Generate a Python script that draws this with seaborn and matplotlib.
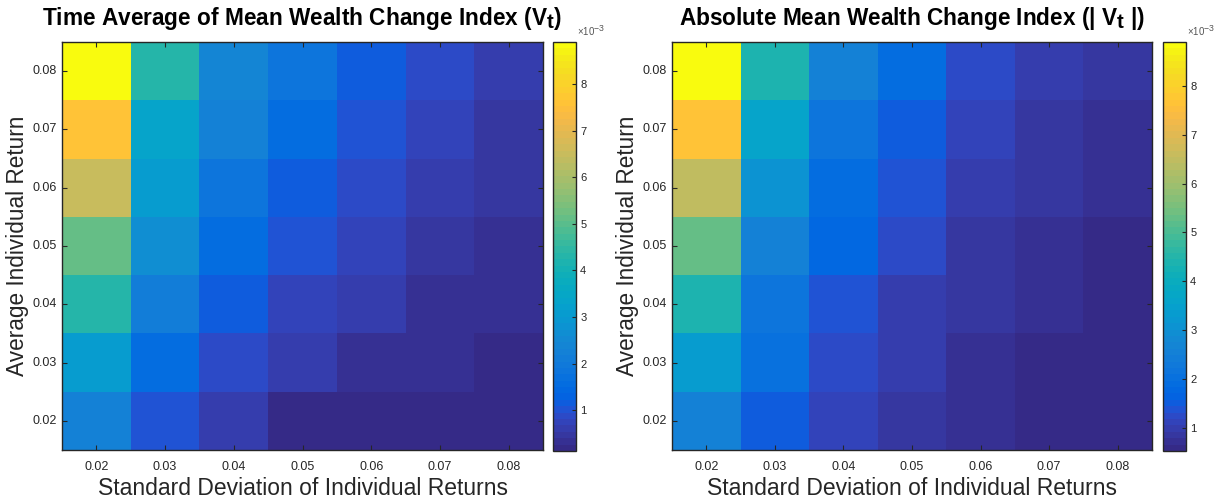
import numpy as np
import pandas as pd
import matplotlib
matplotlib.use("Agg")
import matplotlib.pyplot as plt
import matplotlib._mathtext as _mt
from matplotlib.colors import ListedColormap
import seaborn as sns

sns.set_style("white")
plt.rcParams['font.family'] = ['Liberation Sans', 'DejaVu Sans']
plt.rcParams['mathtext.fontset'] = 'custom'
plt.rcParams['mathtext.rm'] = 'Liberation Sans'
plt.rcParams['mathtext.bf'] = 'Liberation Sans:bold'
plt.rcParams['mathtext.it'] = 'Liberation Sans:italic'
_mt.SHRINK_FACTOR = 0.9

# ---------------- data ----------------
std_labels = ["0.02", "0.03", "0.04", "0.05", "0.06", "0.07", "0.08"]
ret_labels = ["0.08", "0.07", "0.06", "0.05", "0.04", "0.03", "0.02"]  # top to bottom

# Time average of mean wealth change index (x 1e-3), rows 0.08 -> 0.02
time_avg = [
    [8.91, 4.30, 2.35, 1.83, 1.15, 0.88, 0.60],
    [7.65, 3.40, 2.25, 1.60, 1.00, 0.74, 0.53],
    [6.50, 3.10, 1.85, 1.15, 0.88, 0.55, 0.45],
    [5.20, 2.60, 1.60, 1.00, 0.74, 0.46, 0.33],
    [4.30, 2.05, 1.15, 0.74, 0.60, 0.33, 0.33],
    [3.10, 1.60, 0.88, 0.60, 0.33, 0.33, 0.18],
    [2.25, 1.00, 0.60, 0.25, 0.12, 0.14, 0.16],
]
# Absolute mean wealth change index (x 1e-3)
abs_mean = [
    [8.90, 4.40, 2.60, 1.95, 1.25, 0.97, 0.85],
    [7.70, 3.60, 2.10, 1.50, 1.10, 0.85, 0.72],
    [6.50, 3.05, 1.95, 1.38, 0.97, 0.85, 0.72],
    [5.30, 2.60, 1.80, 1.25, 0.85, 0.72, 0.58],
    [4.40, 2.20, 1.40, 0.97, 0.85, 0.72, 0.58],
    [3.30, 2.00, 1.25, 0.97, 0.72, 0.55, 0.55],
    [2.60, 1.55, 1.12, 0.90, 0.72, 0.52, 0.55],
]
scale = 1e-3
cbar_ticks = [1, 2, 3, 4, 5, 6, 7, 8]
cbar_tick_labels = ["1", "2", "3", "4", "5", "6", "7", "8"]
cbar_exponent = r"$\times\mathregular{10^{-3}}$"

titles = [r"Time Average of Mean Wealth Change Index (V$_{\mathbf{t}}$)",
          r"Absolute Mean Wealth Change Index (| V$_{\mathbf{t}}$ |)"]
xlabel = "Standard Deviation of Individual Returns"
ylabel = "Average Individual Return"

# ---------------- parula colormap ----------------
parula_data = [
[0.2081,0.1663,0.5292],[0.2116,0.1898,0.5777],[0.2123,0.2138,0.6270],[0.2081,0.2386,0.6771],
[0.1959,0.2645,0.7279],[0.1707,0.2919,0.7792],[0.1253,0.3242,0.8303],[0.0591,0.3598,0.8683],
[0.0117,0.3875,0.8820],[0.0060,0.4086,0.8828],[0.0165,0.4266,0.8786],[0.0329,0.4430,0.8720],
[0.0498,0.4586,0.8641],[0.0629,0.4737,0.8554],[0.0723,0.4887,0.8467],[0.0779,0.5040,0.8384],
[0.0793,0.5200,0.8312],[0.0749,0.5375,0.8263],[0.0641,0.5570,0.8240],[0.0488,0.5772,0.8228],
[0.0343,0.5966,0.8199],[0.0265,0.6137,0.8135],[0.0239,0.6287,0.8038],[0.0231,0.6418,0.7913],
[0.0228,0.6535,0.7768],[0.0267,0.6642,0.7607],[0.0384,0.6743,0.7436],[0.0590,0.6838,0.7254],
[0.0843,0.6928,0.7062],[0.1133,0.7015,0.6859],[0.1453,0.7098,0.6646],[0.1801,0.7177,0.6424],
[0.2178,0.7250,0.6193],[0.2586,0.7317,0.5954],[0.3022,0.7376,0.5712],[0.3482,0.7424,0.5473],
[0.3953,0.7459,0.5244],[0.4420,0.7481,0.5033],[0.4871,0.7491,0.4840],[0.5300,0.7491,0.4661],
[0.5709,0.7485,0.4494],[0.6099,0.7473,0.4337],[0.6473,0.7456,0.4188],[0.6834,0.7435,0.4044],
[0.7184,0.7411,0.3905],[0.7525,0.7384,0.3768],[0.7858,0.7356,0.3633],[0.8185,0.7327,0.3498],
[0.8507,0.7299,0.3360],[0.8824,0.7274,0.3217],[0.9139,0.7258,0.3063],[0.9450,0.7261,0.2886],
[0.9739,0.7314,0.2666],[0.9938,0.7455,0.2403],[0.9990,0.7653,0.2164],[0.9955,0.7861,0.1967],
[0.9880,0.8066,0.1794],[0.9789,0.8271,0.1633],[0.9697,0.8481,0.1475],[0.9626,0.8705,0.1309],
[0.9589,0.8949,0.1132],[0.9598,0.9218,0.0948],[0.9661,0.9514,0.0755],[0.9763,0.9831,0.0538]]
parula = ListedColormap(parula_data, name="parula")

# ---------------- figure ----------------
W, H = 1225, 501
fig = plt.figure(figsize=(W / 100, H / 100), dpi=100)

def fr(x0, y0, x1, y1):
    return [x0 / W, 1 - y1 / H, (x1 - x0) / W, (y1 - y0) / H]

ax_boxes = [fr(62, 42, 543, 450), fr(672, 42, 1152, 450)]
cb_boxes = [fr(553, 42, 576, 451), fr(1163, 42, 1186, 451)]

dark = "#262626"
for data, title, axb, cbb in zip([time_avg, abs_mean], titles, ax_boxes, cb_boxes):
    ax = fig.add_axes(axb)
    cax = fig.add_axes(cbb)
    df = pd.DataFrame(np.array(data) * scale, index=ret_labels, columns=std_labels)
    sns.heatmap(df, ax=ax, cmap=parula, cbar_ax=cax, linewidths=0, square=False,
                xticklabels=True, yticklabels=True)
    ax.set_axisbelow(False)
    for s in ax.spines.values():
        s.set_visible(True)
        s.set_color(dark)
        s.set_linewidth(1.0)
    ax.tick_params(axis='both', direction='in', length=3.5, width=0.8, color=dark,
                   labelsize=9, labelcolor=dark, top=True, right=True,
                   bottom=True, left=True, labeltop=False, labelright=False)
    ax.tick_params(axis='x', pad=8)
    ax.tick_params(axis='y', pad=4)
    plt.setp(ax.get_yticklabels(), rotation=0)
    plt.setp(ax.get_xticklabels(), rotation=0)
    ax.set_xlabel(xlabel, fontsize=16.5, color=dark, labelpad=3)
    ax.set_ylabel(ylabel, fontsize=16.3, color=dark, labelpad=2)
    ax.set_title(title, fontsize=16.3, fontweight='bold', color='black', pad=12)

    # colorbar styling
    cb = ax.collections[0].colorbar
    cb.outline.set_visible(True)
    cb.outline.set_edgecolor(dark)
    cb.outline.set_linewidth(1.0)
    cb.set_ticks([t * scale for t in cbar_ticks], labels=cbar_tick_labels)
    cax.set_axisbelow(False)
    cax.tick_params(direction='in', length=3, width=0.8, color=dark,
                    labelsize=8, labelcolor=dark, right=True, left=False, pad=3)
    cax.text(1.05, 1.01, cbar_exponent, transform=cax.transAxes, ha='left',
             va='bottom', fontsize=7, color="#555555")

fig.savefig("out.png", dpi=100, facecolor="white")
